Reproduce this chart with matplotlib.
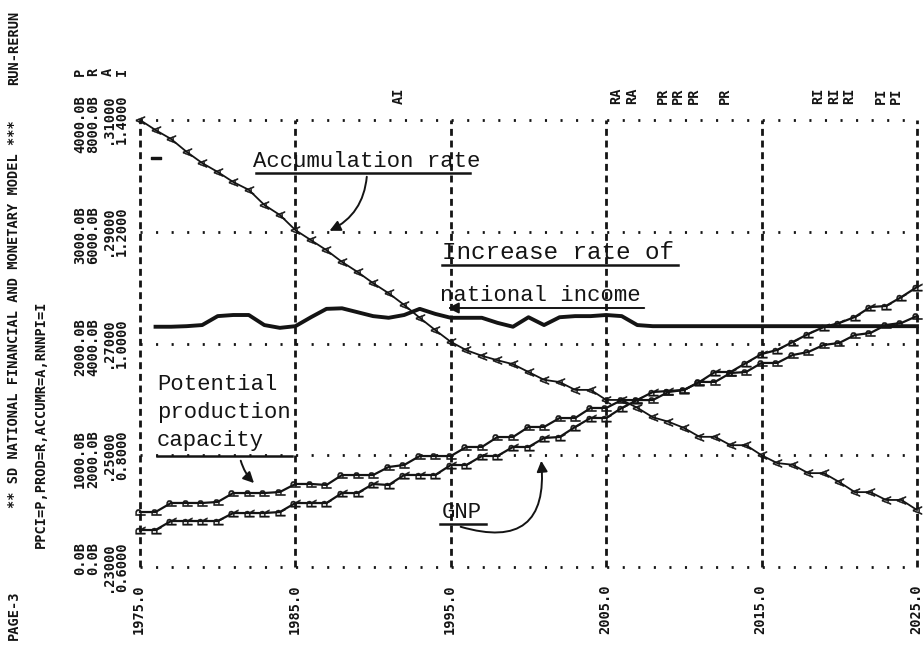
import matplotlib
matplotlib.use("Agg")
import matplotlib.pyplot as plt
from matplotlib.markers import MarkerStyle
from matplotlib.transforms import Affine2D, blended_transform_factory, offset_copy
from matplotlib.patches import FancyArrowPatch
from matplotlib.lines import Line2D

plt.rcParams['lines.scale_dashes'] = False

# ---- data ----
years = list(range(1975, 2026))

accumr = [0.3100, 0.3082, 0.3066, 0.3043, 0.3023, 0.3007, 0.2989, 0.2975, 0.2948, 0.2930,
          0.2903, 0.2885, 0.2867, 0.2846, 0.2828, 0.2808, 0.2790, 0.2769, 0.2746, 0.2724,
          0.2703, 0.2688, 0.2678, 0.2670, 0.2663, 0.2649, 0.2635, 0.2631, 0.2617, 0.2617,
          0.2599, 0.2599, 0.2585, 0.2568, 0.2560, 0.2549, 0.2533, 0.2533, 0.2518, 0.2518,
          0.2500, 0.2486, 0.2483, 0.2468, 0.2468, 0.2452, 0.2434, 0.2434, 0.2420, 0.2420,
          0.2402]

rnnpi_years = list(range(1976, 2026))
rnnpi = [1.030, 1.030, 1.031, 1.033, 1.049, 1.051, 1.051, 1.033, 1.028,
         1.031, 1.047, 1.062, 1.063, 1.056, 1.049, 1.046, 1.051, 1.062, 1.053,
         1.046, 1.046, 1.046, 1.037, 1.030, 1.047, 1.033, 1.047, 1.049, 1.049,
         1.051, 1.049, 1.033, 1.031, 1.031, 1.031, 1.031, 1.031, 1.031, 1.031,
         1.031, 1.031, 1.031, 1.031, 1.031, 1.031, 1.031, 1.031, 1.031, 1.031,
         1.031]
rnnpi_stray = (1976, 1.332)

ppci = [492, 492, 573, 573, 573, 582, 662, 662, 662, 671,
        743, 743, 734, 823, 823, 823, 895, 913, 993, 993,
        993, 1074, 1074, 1163, 1163, 1253, 1253, 1333, 1333, 1423,
        1423, 1494, 1494, 1494, 1566, 1584, 1656, 1656, 1736, 1745,
        1826, 1826, 1897, 1924, 1987, 2005, 2076, 2094, 2166, 2184, 2246]

prod = [662, 662, 823, 823, 823, 823, 966, 966, 966, 984,
        1145, 1145, 1145, 1324, 1324, 1485, 1468, 1647, 1647, 1647,
        1825, 1825, 1987, 1987, 2148, 2148, 2309, 2327, 2506, 2667,
        2667, 2846, 2989, 3132, 3150, 3168, 3311, 3490, 3490, 3651,
        3812, 3884, 4027, 4170, 4295, 4367, 4474, 4653, 4671, 4832, 5011]

# scale labels printed down the left side
levels = [0.6, 0.8, 1.0, 1.2, 1.4]
p_labels = ["0.0B", "1000.0B", "2000.0B", "3000.0B", "4000.0B"]
r_labels = ["0.0B", "2000.0B", "4000.0B", "6000.0B", "8000.0B"]
a_labels = [".23000", ".25000", ".27000", ".29000", ".31000"]
i_labels = ["0.6000", "0.8000", "1.0000", "1.2000", "1.4000"]
x_ticks = [1975, 1985, 1995, 2005, 2015, 2025]
x_labels = ["1975.0", "1985.0", "1995.0", "2005.0", "2015.0", "2025.0"]

# overprint notes at top of the page
conflict_years = [1991, 2005, 2006, 2008, 2009, 2010, 2012, 2018, 2019, 2020, 2022, 2023]
conflict_text = ["AI", "RA", "RA", "PR", "PR", "PR", "PR", "RI", "RI", "RI", "PI", "PI"]

W, H = 924, 646
INK = '#141414'
fig = plt.figure(figsize=(W / 100, H / 100), dpi=100)
fig.patch.set_facecolor('white')

ax = fig.add_axes([140 / W, 1 - 567 / H, 777 / W, 447 / H])
ax_a = ax.twinx()
ax_p = ax.twinx()
ax_r = ax.twinx()
for a in (ax, ax_a, ax_p, ax_r):
    a.set_xlim(1975, 2025)
    a.axis('off')
ax.set_ylim(0.6, 1.4)
ax_a.set_ylim(0.23, 0.31)
ax_p.set_ylim(0, 4000)
ax_r.set_ylim(0, 8000)

# grid: dotted rows, dashed columns
for lv in levels:
    ax.plot([1975, 2025], [lv, lv], color=INK, lw=2.0,
            ls=(0, (1.5, 9.7)), solid_capstyle='butt', clip_on=False)
for xt in x_ticks:
    ax.plot([xt, xt], [0.6, 1.4], color=INK, lw=2.0,
            ls=(0, (5.0, 3.4)), clip_on=False)


def rot_marker(ch):
    return MarkerStyle('$\\mathsf{%s}$' % ch, transform=Affine2D().rotate_deg(90))


ax_a.plot(years, accumr, color=INK, lw=1.3, marker=rot_marker('A'), ms=6.5,
          mew=0.3, clip_on=False)
ax.plot(rnnpi_years, rnnpi, color=INK, lw=2.8, clip_on=False)
ax.plot([rnnpi_stray[0]], [rnnpi_stray[1]], ls='none', marker=rot_marker('I'),
        ms=7, color=INK, clip_on=False)
ax_p.plot(years, ppci, color=INK, lw=1.6, marker=rot_marker('P'), ms=7,
          mew=0.3, clip_on=False)
ax_r.plot(years, prod, color=INK, lw=1.6, marker=rot_marker('R'), ms=7,
          mew=0.3, clip_on=False)

# ---- printed text, rotated like the line-printer page ----
mono = dict(family='DejaVu Sans Mono', weight='bold', fontsize=9.8, color=INK,
            rotation=90, rotation_mode='anchor', va='center')


def ptxt(x, y, s, ha='right'):
    fig.text(x / W, 1 - y / H, s, ha=ha, **mono)


ptxt(14, 85, "RUN-RERUN", ha='left')
ptxt(14, 120, "** SD NATIONAL FINANCIAL AND MONETARY MODEL ***")
ptxt(14, 640, "PAGE-3", ha='left')
ptxt(41, 548, "PPCI=P,PROD=R,ACCUMR=A,RNNPI=I", ha='left')

col_x = [80, 93, 108, 122]
lab_tr = offset_copy(blended_transform_factory(fig.transFigure, ax.transData),
                     fig=fig, y=25, units='dots')
for cx, labs in zip(col_x, [p_labels, r_labels, a_labels, i_labels]):
    for lv, s in zip(levels, labs):
        fig.text(cx / W, lv, s, transform=lab_tr, ha='right', **mono)
for cx, s in zip(col_x, ["P", "R", "A", "I"]):
    ptxt(cx, 72, s, ha='center')

xl_tr = offset_copy(blended_transform_factory(ax.transData, fig.transFigure),
                    fig=fig, x=-1, units='dots')
for xt, s in zip(x_ticks, x_labels):
    fig.text(xt, 1 - 585 / H, s, transform=xl_tr, ha='right', **mono)

cf_tr = offset_copy(blended_transform_factory(ax.transData, fig.transFigure),
                    fig=fig, x=10, units='dots')
for xt, s in zip(conflict_years, conflict_text):
    fig.text(xt, 1 - 88 / H, s, transform=cf_tr, ha='right', **mono)

# ---- typed annotations ----
tw = dict(family='Liberation Mono', color=INK, fontsize=16)


def note(x, y, s, **kw):
    d = dict(tw)
    d.update(kw)
    fig.text(x / W, 1 - y / H, s, ha='left', va='baseline', **d)


def uline(x0, x1, y, lw=1.8):
    fig.add_artist(Line2D([x0 / W, x1 / W], [1 - y / H, 1 - y / H],
                          transform=fig.transFigure, color=INK, lw=lw))


def arrow(p0, p1, rad, style='-|>'):
    fig.add_artist(FancyArrowPatch((p0[0] / W, 1 - p0[1] / H), (p1[0] / W, 1 - p1[1] / H),
                                   transform=fig.transFigure, arrowstyle=style,
                                   mutation_scale=16, color=INK, lw=1.4,
                                   connectionstyle='arc3,rad=%s' % rad))


note(253, 167, "Accumulation rate")
uline(256, 470, 173)
arrow((367, 174), (327, 232), -0.3)

note(442, 259, "Increase rate of", fontsize=17.5)
uline(442, 678, 265)
note(440, 301, "national income")
arrow((647, 308), (445, 308), 0.0)

note(157, 390, "Potential")
note(157, 418, "production")
note(157, 446, "capacity")
uline(157, 292, 456)
arrow((240, 458), (256, 485), 0.15)

note(442, 518, "GNP")
uline(440, 486, 524)
arrow((458, 526), (541, 458), 0.75)

fig.savefig("out.png", dpi=100)
